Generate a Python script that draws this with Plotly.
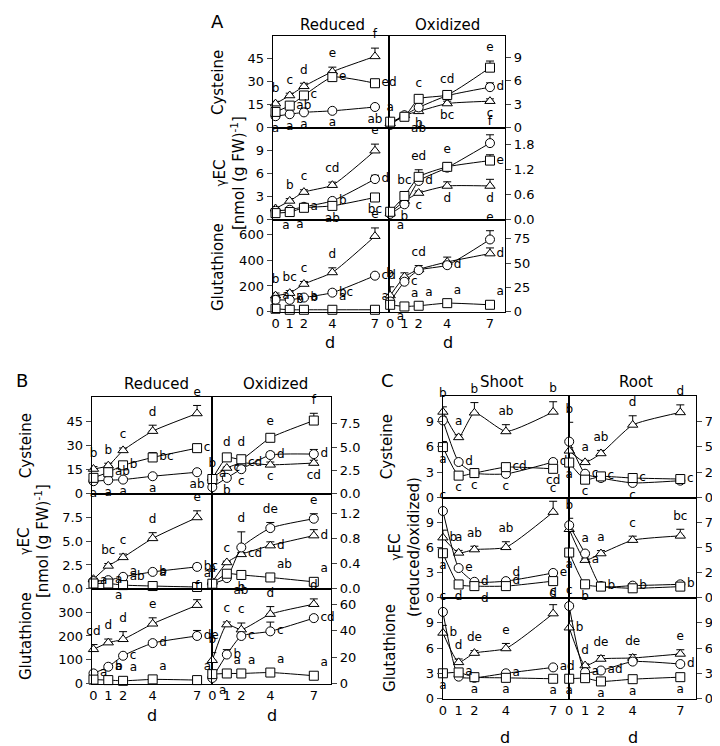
import plotly.graph_objects as go

DAYS = [0, 1, 2, 4, 7]

# ---- panel A (reduced / oxidized) ----
A_CYS_RED = dict(
    range=[0, 60], ticks=[0, 15, 30, 45],
    tri=[15.7, 21.0, 27.0, 36.5, 46.5], tri_err=[1.5, 1.5, 2.0, 3.0, 5.4], tri_lbl=["b", "c", "d", "e", "f"],
    cir=[7.5, 8.8, 10.0, 11.0, 13.5], cir_err=[0.5, 0.5, 0.5, 0.5, 0.8], cir_lbl=["a", "a", "a", "a", "ab"],
    sq=[10.3, 14.4, 21.0, 33.0, 29.0], sq_err=[2.0, 1.0, 2.0, 2.0, 2.0], sq_lbl=["", "ab", "c", "e", "ed"],
)
A_CYS_OX = dict(
    range=[0, 11.8], ticks=[0, 3, 6, 9],
    tri=[0.55, 1.6, 2.1, 3.1, 3.4], tri_err=[0.1, 0.1, 0.2, 0.3, 0.3], tri_lbl=["", "", "b", "bc", "c"],
    cir=[0.35, 1.6, 2.6, 4.1, 5.2], cir_err=[0.1, 0.1, 0.2, 0.3, 0.55], cir_lbl=["", "", "", "", "d"],
    sq=[0.77, 1.4, 3.7, 4.2, 7.7], sq_err=[0.1, 0.1, 0.3, 0.3, 0.85], sq_lbl=["a", "ab", "c", "cd", "e"],
)
A_GEC_RED = dict(
    range=[0, 12], ticks=[0, 3, 6, 9],
    tri=[1.46, 2.45, 3.6, 4.5, 9.0], tri_err=[0.2, 0.3, 0.3, 0.4, 0.86], tri_lbl=["", "b", "c", "cd", "e"],
    cir=[1.16, 1.3, 1.68, 2.45, 5.3], cir_err=[0.1, 0.1, 0.1, 0.2, 0.5], cir_lbl=["", "", "a", "b", "d"],
    sq=[0.86, 1.0, 1.55, 1.8, 2.9], sq_err=[0.1, 0.1, 0.1, 0.1, 0.2], sq_lbl=["a", "a", "", "ab", "bc"],
)
A_GEC_OX = dict(
    range=[0, 2.21], ticks=[0, 0.6, 1.2, 1.8],
    tri=[0.16, 0.45, 0.64, 0.81, 0.81], tri_err=[0.02, 0.04, 0.05, 0.1, 0.16], tri_lbl=["", "", "c", "d", "d"],
    cir=[0.14, 0.37, 0.93, 1.25, 1.84], cir_err=[0.02, 0.04, 0.05, 0.05, 0.2], cir_lbl=["a", "b", "d", "", "f"],
    sq=[0.19, 0.57, 1.03, 1.27, 1.42], sq_err=[0.02, 0.05, 0.17, 0.1, 0.14], sq_lbl=["", "bc", "ed", "e", "e"],
)
A_GLU_RED = dict(
    range=[0, 715], ticks=[0, 200, 400, 600],
    tri=[125, 144, 215, 305, 587], tri_err=[20, 20, 20, 36, 64], tri_lbl=["b", "bc", "c", "d", "e"],
    cir=[92, 92, 110, 148, 280], cir_err=[35, 10, 10, 20, 15], cir_lbl=["", "b", "b", "bc", "cd"],
    sq=[23, 15, 15, 15, 15], sq_err=[5, 3, 3, 3, 3], sq_lbl=["a", "a", "a", "a", "a"],
)
A_GLU_OX = dict(
    range=[0, 94.5], ticks=[0, 25, 50, 75],
    tri=[16.6, 35.9, 43.4, 51.1, 59.7], tri_err=[9, 4, 4, 5, 5.8], tri_lbl=["b", "", "cd", "", "d"],
    cir=[10.5, 30.8, 42.7, 47.8, 74.2], cir_err=[2, 2, 2, 3, 9], cir_lbl=["", "c", "", "d", "e"],
    sq=[7.1, 5.4, 6.1, 8.8, 7.1], sq_err=[1, 1, 1, 1, 1], sq_lbl=["a", "a", "a", "a", "a"],
)

# ---- panel B (reduced / oxidized) ----
B_CYS_RED = dict(
    range=[0, 60.4], ticks=[0, 15, 30, 45],
    tri=[15.4, 17.5, 27.0, 39.0, 50.0], tri_err=[1.5, 1.5, 1.5, 3.7, 5.0], tri_lbl=["b", "b", "c", "d", "e"],
    cir=[7.8, 8.4, 8.8, 10.9, 13.4], cir_err=[0.5, 0.5, 0.5, 0.5, 0.5], cir_lbl=["a", "a", "a", "a", "ab"],
    sq=[9.9, 13.4, 17.7, 22.6, 28.4], sq_err=[1.0, 1.5, 1.5, 3.0, 2.5], sq_lbl=["", "ab", "b", "bc", "c"],
)
B_CYS_OX = dict(
    range=[0, 10.4], ticks=[0, 2.5, 5, 7.5],
    tri=[1.7, 2.76, 3.29, 3.1, 3.29], tri_err=[0.1, 0.1, 0.2, 0.3, 0.3], tri_lbl=["b", "c", "cd", "c", "cd"],
    cir=[0.71, 1.7, 2.63, 4.15, 4.25], cir_err=[0.05, 0.1, 0.2, 0.3, 0.5], cir_lbl=["a", "b", "c", "d", "d"],
    sq=[1.58, 3.9, 3.7, 6.0, 7.85], sq_err=[0.1, 0.2, 0.4, 0.3, 0.78], sq_lbl=["", "d", "d", "e", "f"],
)
B_GEC_RED = dict(
    range=[0, 10], ticks=[0, 2.5, 5, 7.5],
    tri=[1.0, 2.4, 3.3, 5.3, 7.5], tri_err=[0.1, 0.25, 0.35, 0.6, 0.7], tri_lbl=["", "bc", "c", "d", "e"],
    cir=[0.8, 0.9, 1.25, 1.77, 2.3], cir_err=[0.05, 0.05, 0.2, 0.1, 0.3], cir_lbl=["a", "a", "ab", "b", "bc"],
    sq=[0.55, 0.55, 0.38, 0.28, 0.18], sq_err=[0.05, 0.05, 0.05, 0.05, 0.05], sq_lbl=["", "a", "a", "a", "a"],
)
B_GEC_OX = dict(
    range=[0, 1.52], ticks=[0, 0.4, 0.8, 1.2],
    tri=[0.11, 0.42, 0.55, 0.69, 0.85], tri_err=[0.01, 0.02, 0.03, 0.06, 0.095], tri_lbl=["a", "c", "cd", "d", "d"],
    cir=[0.08, 0.17, 0.66, 0.97, 1.12], cir_err=[0.01, 0.02, 0.25, 0.09, 0.08], cir_lbl=["", "ab", "d", "de", "e"],
    sq=[0.08, 0.24, 0.22, 0.18, 0.11], sq_err=[0.01, 0.01, 0.01, 0.02, 0.01], sq_lbl=["", "", "b", "ab", "a"],
)
B_GLU_RED = dict(
    range=[0, 398], ticks=[0, 100, 200, 300],
    tri=[144, 172, 186, 251, 329], tri_err=[20, 15, 32, 25, 23], tri_lbl=["cd", "d", "d", "e", "f"],
    cir=[43, 71, 117, 170, 200], cir_err=[5, 5, 5, 10, 23], cir_lbl=["a", "b", "c", "d", "de"],
    sq=[17, 15, 12, 18, 15], sq_err=[2, 2, 2, 2, 2], sq_lbl=["", "a", "a", "a", "a"],
)
B_GLU_OX = dict(
    range=[0, 71.7], ticks=[0, 20, 40, 60],
    tri=[17.7, 44.6, 40.8, 52.5, 60.0], tri_err=[5.7, 2, 5, 5.7, 4], tri_lbl=["b", "c", "c", "d", "d"],
    cir=[4.3, 22.0, 36.0, 39.5, 49.5], cir_err=[1, 3.7, 1, 7, 2], cir_lbl=["a", "b", "c", "c", "cd"],
    sq=[7.2, 7.7, 7.7, 8.4, 6.0], sq_err=[0.5, 0.5, 0.5, 0.5, 0.5], sq_lbl=["", "a", "a", "a", "a"],
)

# ---- panel C (shoot / root) ----
C_CYS_SH = dict(
    range=[0, 12], ticks=[0, 3, 6, 9],
    tri=[10.1, 7.1, 10.0, 7.8, 10.1], tri_err=[0.6, 0.3, 1.2, 0.8, 1.2], tri_lbl=["b", "a", "b", "ab", "b"],
    cir=[9.1, 4.2, 2.9, 2.8, 4.2], cir_err=[0.4, 0.2, 0.1, 0.1, 0.3], cir_lbl=["", "d", "c", "c", "d"],
    sq=[5.96, 2.6, 2.9, 3.6, 3.4], sq_err=[0.66, 0.1, 0.1, 0.3, 0.2], sq_lbl=["a", "c", "", "cd", "cd"],
)
C_CYS_RT = dict(
    range=[0, 10], ticks=[0, 2.5, 5, 7.5],
    tri=[4.6, 3.47, 4.34, 7.14, 8.37], tri_err=[0.3, 0.2, 0.3, 0.9, 0.74], tri_lbl=["", "a", "ab", "d", "d"],
    cir=[5.5, 2.35, 1.93, 1.45, 1.67], cir_err=[1.9, 0.1, 0.1, 0.1, 0.1], cir_lbl=["b", "c", "", "c", ""],
    sq=[3.45, 1.77, 2.09, 1.93, 1.83], sq_err=[0.2, 0.1, 0.1, 0.1, 0.1], sq_lbl=["a", "c", "c", "c", "c"],
)
C_GEC_SH = dict(
    range=[0, 12], ticks=[0, 3, 6, 9],
    tri=[7.2, 5.37, 5.77, 6.04, 10.27], tri_err=[0.9, 0.3, 0.4, 0.67, 1.3], tri_lbl=["b", "a", "ab", "ab", "c"],
    cir=[10.4, 3.55, 1.9, 1.98, 2.96], cir_err=[0.3, 0.2, 0.1, 0.1, 0.2], cir_lbl=["c", "e", "d", "d", "e"],
    sq=[5.33, 1.58, 1.38, 1.38, 1.98], sq_err=[0.3, 0.1, 0.1, 0.1, 0.1], sq_lbl=["a", "d", "d", "d", "d"],
)
C_GEC_RT = dict(
    range=[0, 10], ticks=[0, 2.5, 5, 7.5],
    tri=[6.84, 3.75, 4.41, 5.75, 6.18], tri_err=[0.3, 0.2, 0.3, 0.4, 0.66], tri_lbl=["", "a", "a", "c", "bc"],
    cir=[7.24, 4.41, 1.17, 1.2, 1.33], cir_err=[0.7, 0.2, 0.1, 0.1, 0.1], cir_lbl=["b", "a", "b", "b", "b"],
    sq=[4.51, 1.33, 1.1, 0.93, 1.1], sq_err=[0.2, 0.1, 0.05, 0.05, 0.05], sq_lbl=["a", "b", "", "", ""],
)
C_GLU_SH = dict(
    range=[0, 12], ticks=[0, 3, 6, 9],
    tri=[7.8, 4.3, 5.4, 5.95, 10.1], tri_err=[0.9, 0.4, 0.3, 0.6, 1.06], tri_lbl=["b", "d", "de", "e", "c"],
    cir=[10.3, 2.6, 2.46, 3.0, 3.7], cir_err=[0.3, 0.1, 0.1, 0.1, 0.2], cir_lbl=["c", "", "a", "a", "ad"],
    sq=[3.0, 3.1, 2.54, 2.46, 2.35], sq_err=[0.1, 0.1, 0.1, 0.1, 0.1], sq_lbl=["a", "a", "", "a", "a"],
)
C_GLU_RT = dict(
    range=[0, 12], ticks=[0, 3, 6, 9],
    tri=[8.42, 3.92, 4.7, 4.82, 5.3], tri_err=[0.8, 0.2, 0.4, 0.4, 0.5], tri_lbl=["b", "d", "de", "de", "e"],
    cir=[11.0, 3.13, 3.33, 4.39, 4.1], cir_err=[0.3, 0.2, 0.2, 0.3, 0.2], cir_lbl=["c", "a", "ad", "", "d"],
    sq=[2.35, 2.42, 2.03, 2.3, 2.54], sq_err=[0.1, 0.1, 0.1, 0.1, 0.1], sq_lbl=["a", "", "a", "a", "a"],
)

W, H = 720, 746
FONT = "DejaVu Sans"
SYMBOLS = {"tri": "triangle-up", "cir": "circle", "sq": "square"}

# subplot geometry in pixels: (data, x0, x1, y0, y1, x range, side, bottom row, crossing ticks)
SUBPLOTS = [
    (A_CYS_RED, 262, 379, 28, 121, [-0.21, 7.98], "left", False, False),
    (A_CYS_OX, 379, 496, 28, 121, [-0.09, 8.07], "right", False, False),
    (A_GEC_RED, 262, 379, 121, 214, [-0.21, 7.98], "left", False, False),
    (A_GEC_OX, 379, 496, 121, 214, [-0.09, 8.07], "right", False, False),
    (A_GLU_RED, 262, 379, 214, 307, [-0.21, 7.98], "left", True, False),
    (A_GLU_OX, 379, 496, 214, 307, [-0.09, 8.07], "right", True, False),
    (B_CYS_RED, 80, 201, 393, 491, [-0.13, 8.0], "left", False, False),
    (B_CYS_OX, 201, 321, 393, 491, [-0.03, 8.2], "right", False, False),
    (B_GEC_RED, 80, 201, 491, 587, [-0.13, 8.0], "left", False, False),
    (B_GEC_OX, 201, 321, 491, 587, [-0.03, 8.2], "right", False, False),
    (B_GLU_RED, 80, 201, 587, 683, [-0.13, 8.0], "left", True, False),
    (B_GLU_OX, 201, 321, 587, 683, [-0.03, 8.2], "right", True, False),
    (C_CYS_SH, 433, 560, 392, 495, [-0.02, 8.0], "left", False, True),
    (C_CYS_RT, 560, 688, 392, 495, [-0.02, 8.0], "right", False, True),
    (C_GEC_SH, 433, 560, 495, 596, [-0.02, 8.0], "left", False, True),
    (C_GEC_RT, 560, 688, 495, 596, [-0.02, 8.0], "right", False, True),
    (C_GLU_SH, 433, 560, 596, 698, [-0.02, 8.0], "left", True, True),
    (C_GLU_RT, 560, 688, 596, 698, [-0.02, 8.0], "right", True, True),
]

fig = go.Figure()
layout = {}
extra = len(SUBPLOTS)

for i, (d, x0, x1, y0, y1, xr, side, bottom, cross) in enumerate(SUBPLOTS, start=1):
    sfx = "" if i == 1 else str(i)
    xref, yref = "x" + sfx, "y" + sfx
    fmt = ".1f" if any(t != int(t) for t in d["ticks"]) else "d"
    layout["xaxis" + sfx] = dict(
        domain=[x0 / W, x1 / W], anchor=yref, range=xr,
        showline=True, mirror=True, linecolor="black", linewidth=1,
        showgrid=False, zeroline=False, ticks="",
        tickvals=DAYS, showticklabels=bottom,
        tickfont=dict(family=FONT, size=13, color="black"),
    )
    layout["yaxis" + sfx] = dict(
        domain=[1 - y1 / H, 1 - y0 / H], anchor=xref, range=d["range"], side=side,
        showline=True, mirror=True, linecolor="black", linewidth=1,
        showgrid=False, zeroline=False, ticks="outside", ticklen=5,
        tickvals=d["ticks"], tickformat=fmt,
        tickfont=dict(family=FONT, size=13, color="black"),
    )
    if cross:
        # panel C ticks cross the axis line: add an inside-tick twin axis
        extra += 1
        layout["yaxis" + str(extra)] = dict(
            overlaying=yref, anchor=xref, range=d["range"], side=side,
            showline=False, showgrid=False, zeroline=False,
            ticks="inside", ticklen=5, tickcolor="black",
            tickvals=d["ticks"] + [d["range"][1]], showticklabels=False,
        )

    for key in ("tri", "cir", "sq"):
        fig.add_trace(go.Scatter(
            x=DAYS, y=d[key], xaxis=xref, yaxis=yref, mode="lines+markers",
            line=dict(color="black", width=1, shape="spline", smoothing=0.5),
            marker=dict(symbol=SYMBOLS[key], size=9, color="white",
                        line=dict(color="black", width=1)),
            error_y=dict(type="data", symmetric=False, array=d[key + "_err"],
                         arrayminus=[0, 0, 0, 0, 0], color="black", thickness=1, width=4),
            cliponaxis=False, hoverinfo="skip",
        ))

    # significance letters: top series above, lowest below, middle to the right
    top = d["range"][1]
    for key in ("tri", "cir", "sq"):
        ys, pos = [], []
        for j in range(len(DAYS)):
            vals = sorted((d[k][j], k) for k in ("tri", "cir", "sq"))
            rank = [k for _, k in vals].index(key)
            v = d[key][j]
            if rank == 2:
                ys.append(v + d[key + "_err"][j])
                pos.append("top center")
            elif rank == 0:
                ys.append(v)
                if v / top >= 0.12:
                    pos.append("bottom center")
                elif vals[1][0] - v < 0.05 * top:
                    pos.append("bottom right")
                else:
                    pos.append("top right")
            else:
                ys.append(v)
                pos.append("middle right")
        fig.add_trace(go.Scatter(
            x=DAYS, y=ys, xaxis=xref, yaxis=yref, mode="markers+text",
            text=d[key + "_lbl"], textposition=pos,
            marker=dict(size=9, opacity=0),
            textfont=dict(family=FONT, size=12, color="black"),
            cliponaxis=False, hoverinfo="skip",
        ))


def note(text, x, y, size=15, angle=0):
    return dict(text=text, x=x / W, y=1 - y / H, xref="paper", yref="paper",
                showarrow=False, textangle=angle, xanchor="center", yanchor="middle",
                font=dict(family=FONT, size=size, color="black"))


gec_nmol = "<span style='font-size:12px'>γ</span>EC<br>[nmol (g FW)<sup>-1</sup>]"
annotations = [
    note("A", 207, 14, 18), note("Reduced", 322, 17), note("Oxidized", 438, 17),
    note("Cysteine", 207, 75, angle=-90), note(gec_nmol, 219, 167, angle=-90),
    note("Glutathione", 207, 262, angle=-90),
    note("d", 320, 338, 16), note("d", 438, 338, 16),

    note("B", 10, 377, 18), note("Reduced", 145, 380), note("Oxidized", 265, 380),
    note("Cysteine", 14, 442, angle=-90), note(gec_nmol, 22, 539, angle=-90),
    note("Glutathione", 14, 635, angle=-90),
    note("d", 141, 715, 16), note("d", 261, 715, 16),

    note("C", 378, 377, 18), note("Shoot", 492, 378), note("Root", 627, 378),
    note("Cysteine", 377, 443, angle=-90),
    note("<span style='font-size:12px'>γ</span>EC<br>(reduced/oxidized)", 395, 545, angle=-90),
    note("Glutathione", 380, 647, angle=-90),
    note("d", 496, 737, 16), note("d", 624, 737, 16),
]

fig.update_layout(
    width=W, height=H, margin=dict(l=0, r=0, t=0, b=0),
    paper_bgcolor="white", plot_bgcolor="white",
    showlegend=False, annotations=annotations,
    font=dict(family=FONT, color="black"),
    **layout,
)

fig.write_html("out.html")
